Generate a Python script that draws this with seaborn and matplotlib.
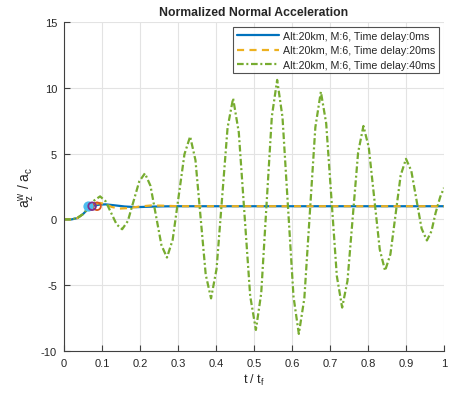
import matplotlib
matplotlib.use("Agg")
import matplotlib.pyplot as plt
import seaborn as sns
import numpy as np
import pandas as pd

# ---- data ----
t_green = [0.0, 0.02, 0.035, 0.05, 0.065, 0.08,
           0.095, 0.1095, 0.124, 0.1385, 0.153, 0.168, 0.183, 0.198,
           0.213, 0.2275, 0.242, 0.2565, 0.271, 0.286, 0.3015, 0.317,
           0.332, 0.346, 0.3595, 0.373, 0.387, 0.4015, 0.416, 0.4305,
           0.445, 0.46, 0.475, 0.49, 0.505, 0.519, 0.533, 0.547,
           0.561, 0.575, 0.5895, 0.604, 0.618, 0.6325, 0.647, 0.6615,
           0.676, 0.69, 0.704, 0.718, 0.732, 0.746, 0.76, 0.774,
           0.788, 0.802, 0.8165, 0.831, 0.845, 0.859, 0.8725, 0.886,
           0.900, 0.914, 0.9275, 0.941, 0.955, 0.967, 0.978, 0.99, 1.0]
a_green = [0.0, 0.0, 0.1, 0.4, 0.9, 1.45,
           1.75, 1.38, 0.5, -0.38, -0.75, -0.13, 1.375, 2.88,
           3.5, 2.56, 0.3, -1.96, -2.9, -1.55, 1.7, 4.95,
           6.3, 4.5, 0.15, -4.2, -6.0, -3.77, 1.6, 6.97,
           9.2, 6.62, 0.4, -5.82, -8.4, -5.62, 1.1, 7.82,
           10.6, 7.77, 0.95, -5.87, -8.7, -6.0, 0.5, 7.0,
           9.7, 7.3, 1.5, -4.3, -6.7, -4.68, 0.2, 5.08,
           7.1, 5.49, 1.6, -2.29, -3.9, -2.65, 0.35, 3.35,
           4.6, 3.69, 1.5, -0.69, -1.6, -0.9, 0.5, 1.7, 2.4]

t_blue = [0.0, 0.02, 0.035, 0.05, 0.065, 0.08, 0.095, 0.11, 0.13, 0.16, 0.19, 0.22, 0.26, 0.3, 0.5, 0.75, 1.0]
a_blue = [0.0, 0.0, 0.1, 0.4, 0.85, 1.05, 1.13, 1.14, 1.08, 0.98, 0.93, 0.96, 0.99, 1.0, 1.0, 1.0, 1.0]

t_orange = [0.0, 0.02, 0.035, 0.05, 0.065, 0.08, 0.095, 0.11, 0.125, 0.145, 0.17, 0.2, 0.23, 0.26, 0.3, 0.5, 0.75, 1.0]
a_orange = [0.0, 0.0, 0.1, 0.4, 0.88, 1.15, 1.25, 1.15, 0.95, 0.82, 0.86, 0.98, 1.06, 1.04, 1.0, 1.0, 1.0, 1.0]

marker_t = [0.063, 0.074, 0.087]
marker_a = [1.0, 1.0, 1.0]

labels = ["Alt:20km, M:6, Time delay:0ms",
          "Alt:20km, M:6, Time delay:20ms",
          "Alt:20km, M:6, Time delay:40ms"]
x_ticks = [0, 0.1, 0.2, 0.3, 0.4, 0.5, 0.6, 0.7, 0.8, 0.9, 1]
x_tick_labels = ["0", "0.1", "0.2", "0.3", "0.4", "0.5", "0.6", "0.7", "0.8", "0.9", "1"]
y_ticks = [-10, -5, 0, 5, 10, 15]

# ---- style ----
sns.set_theme(style="white")
plt.rcParams["font.family"] = ["Liberation Sans", "DejaVu Sans"]
plt.rcParams["mathtext.default"] = "regular"
plt.rcParams["axes.unicode_minus"] = False

fig = plt.figure(figsize=(4.58, 4.02), dpi=100)
ax = fig.add_axes([0.1397, 0.1244, 0.8297, 0.8184])

c_blue = "#0072BD"
c_orange = "#EDB120"
c_green = "#77AC30"
LW = 1.6

sns.lineplot(x=t_blue, y=a_blue, ax=ax, color=c_blue, lw=LW, label=labels[0], sort=False)
sns.lineplot(x=t_orange, y=a_orange, ax=ax, color=c_orange, lw=LW, label=labels[1], sort=False,
             linestyle=(0, (3.2, 2.4)))
sns.lineplot(x=t_green, y=a_green, ax=ax, color=c_green, lw=LW, label=labels[2], sort=False,
             linestyle=(0, (3.0, 1.2, 0.9, 1.2)))

# event markers
ax.scatter([marker_t[0]], [marker_a[0]], s=38, facecolor="#4DBEEE", edgecolor="#4DBEEE", lw=1.2, zorder=5)
ax.scatter([marker_t[1]], [marker_a[1]], s=30, facecolor="none", edgecolor="#7E2F8E", lw=1.3, zorder=6)
ax.scatter([marker_t[2]], [marker_a[2]], s=30, facecolor="none", edgecolor="#D95319", lw=1.3, zorder=4)

ax.set_xlim(0, 1)
ax.set_ylim(-10, 15)
ax.set_xticks(x_ticks)
ax.set_xticklabels(x_tick_labels)
ax.set_yticks(y_ticks)

ax.grid(True, color="#e3e3e3", lw=0.8)
ax.set_axisbelow(True)
for s in ["top", "right"]:
    ax.spines[s].set_visible(False)
for s in ["left", "bottom"]:
    ax.spines[s].set_color("#404040")
    ax.spines[s].set_linewidth(0.8)
ax.tick_params(axis="both", direction="in", length=4, width=0.8, color="#404040",
               labelsize=8, labelcolor="#262626", bottom=True, left=True, pad=5)

ax.set_title("Normalized Normal Acceleration", fontsize=8.8, fontweight="bold", pad=5)
ax.set_xlabel("t / t$_f$", fontsize=9, color="#262626", labelpad=3)
ax.set_ylabel("a$_z^w$ / a$_c$", fontsize=10, color="#262626", labelpad=3)

leg = ax.legend(loc="upper right", fontsize=7.7, frameon=True, fancybox=False,
                handlelength=4.0, handletextpad=0.3, borderpad=0.35, labelspacing=0.4,
                borderaxespad=0.5)
leg.get_frame().set_edgecolor("#262626")
leg.get_frame().set_linewidth(0.8)

fig.savefig("out.png", dpi=100)
